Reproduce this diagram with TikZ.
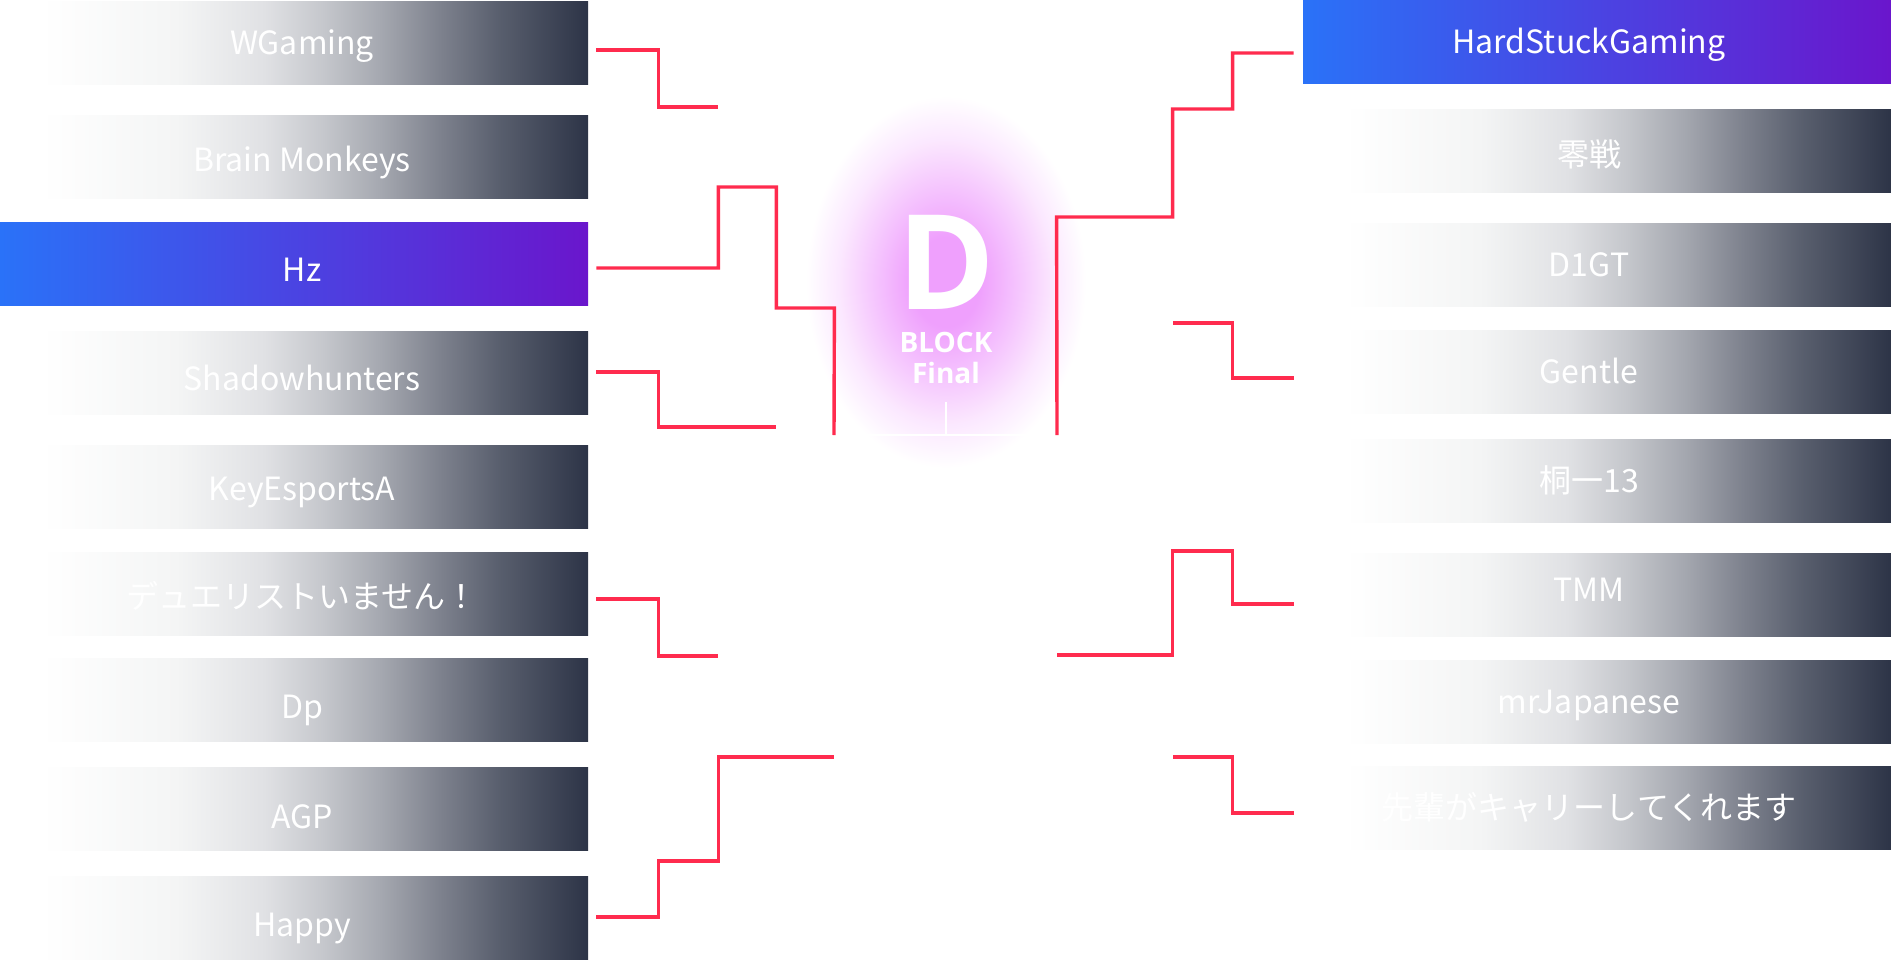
\documentclass[tikz,border=0pt]{standalone}
\usepackage{fontspec}
\setmainfont{Open Sans}
\newfontfamily\jpfont{Noto Sans CJK JP}
\usepackage{tikz}
\usetikzlibrary{calc,positioning}
\definecolor{bkred}{HTML}{FF2B4E}
\definecolor{winA}{HTML}{2A72F8}
\definecolor{winB}{HTML}{6A16CC}
\definecolor{glowc}{HTML}{EFA0FD}
\definecolor{gA}{HTML}{F4F5F5}
\definecolor{gB}{HTML}{E0E1E4}
\definecolor{gC}{HTML}{C5C7CC}
\definecolor{gD}{HTML}{A4A7AF}
\definecolor{gE}{HTML}{7D818D}
\definecolor{gF}{HTML}{585E6D}
\definecolor{navy}{HTML}{2D3447}
\pgfdeclarehorizontalshading{fadebar}{100bp}{color(0bp)=(white); color(25bp)=(white);
  color(28.5bp)=(white); color(40bp)=(gA); color(47.5bp)=(gB); color(52.5bp)=(gC);
  color(57.5bp)=(gD); color(62.5bp)=(gE); color(67.5bp)=(gF); color(75bp)=(navy); color(100bp)=(navy)}
\pgfdeclareradialshading{glowsh}{\pgfpoint{0bp}{0bp}}{color(0bp)=(glowc); color(6bp)=(glowc);
  color(13bp)=(glowc!60!white); color(19bp)=(glowc!25!white); color(25bp)=(white); color(50bp)=(white)}
\tikzset{
  bar/.style={inner sep=0pt, minimum width=294pt, minimum height=41.5pt, text height=11.7pt,
    text depth=0pt, text=white, font=\jpfont\fontsize{16}{19}\selectfont},
  lbar/.style={bar, shade, shading=fadebar, execute at begin node=\hspace*{8pt}},
  rbar/.style={bar, shade, shading=fadebar, execute at end node=\hspace*{8pt}},
  lwin/.style={bar, left color=winA, right color=winB, execute at begin node=\hspace*{8pt}},
  rwin/.style={bar, left color=winA, right color=winB, execute at end node=\hspace*{8pt}},
  tdrop/.style={text height=#1},
  tlift/.style={text depth=#1},
  bk/.style={draw=bkred, line width=1.7pt},
  fin/.style={draw=white, line width=0.7pt},
  blk/.style={inner sep=0pt, text=white, font=\bfseries\fontsize{66}{68}\selectfont, text height=47pt, text depth=0pt},
  sub/.style={inner sep=0pt, text=white, font=\bfseries\fontsize{14}{16}\selectfont, text height=10pt, text depth=0pt}
}
\begin{document}
\begin{tikzpicture}[x=0.5pt, y=-0.5pt]
  \fill[white] (0,0) rectangle (1891,969);
  \useasboundingbox (0,0) rectangle (1891,969);
  \shade[shading=glowsh] (946,282) ellipse [x radius=140, y radius=186];

  \node[lbar] (wg) at (294,42.5) {WGaming};
  \node[lbar, tdrop=15.2pt] (bm) at (294,156.5) {Brain Monkeys};
  \node[lwin, tdrop=18.2pt] (hz) at (294,263.5) {Hz};
  \node[lbar, tdrop=18.2pt] (sh) at (294,372.5) {Shadowhunters};
  \node[lbar, tdrop=13.7pt] (ke) at (294,486.5) {KeyEsportsA};
  \node[lbar, tdrop=15.2pt] (du) at (294,593.5) {デュエリストいません！};
  \node[lbar, tdrop=19.2pt] (dp) at (294,699.5) {Dp};
  \node[lbar, tdrop=20.2pt] (agp) at (294,808.5) {AGP};
  \node[lbar, tdrop=19.2pt] (hp) at (294,917.5) {Happy};

  \node[rwin] (hsg) at (1597,41.5) {HardStuckGaming};
  \node[rbar, tdrop=15.7pt] (zs) at (1597,150.5) {零戦};
  \node[rbar] (dg) at (1597,264.5) {D1GT};
  \node[rbar] (ge) at (1597,371.5) {Gentle};
  \node[rbar] (kr) at (1597,480.5) {桐一13};
  \node[rbar, tlift=4.5pt] (tmm) at (1597,594.5) {TMM};
  \node[rbar] (mrj) at (1597,701.5) {mrJapanese};
  \node[rbar] (sk) at (1597,807.5) {先輩がキャリーしてくれます};

  \coordinate (s1) at (718,107);
  \coordinate (s2) at (776,427);
  \coordinate (s3) at (718,656);
  \coordinate (s4) at (834,757);
  \coordinate (f1) at (834,435);
  \coordinate (t1) at (1173,323);
  \coordinate (t2) at (1057,655);
  \coordinate (t3) at (1173,757);
  \coordinate (f2) at (1057,435);
  \coordinate (fc) at (946,402);

  \draw[fin] (f1) -- (f2);
  \draw[fin] (fc) -- (fc |- f1);

  \draw[bk] ($(wg.east)+(8,7.5)$) -- ++(62,0) -- ++(0,57) -- (s1);
  \draw[bk] ($(hz.east)+(8,4.5)$) -- ++(122,0) -- ++(0,-81) -- ++(58,0) -- ++(0,121) -- ++(58,0) -- (f1);
  \draw[bk] ($(sh.east)+(8,-0.5)$) -- ++(62,0) -- ++(0,55) -- (s2);
  \draw[bk] ($(du.east)+(8,5.5)$) -- ++(62,0) -- ++(0,57) -- (s3);
  \draw[bk] ($(hp.east)+(8,-0.5)$) -- ++(62,0) -- ++(0,-56) -- ++(60,0) -- ++(0,-104) -- (s4);

  \draw[bk] ($(hsg.west)+(-9,11.5)$) -- ++(-61,0) -- ++(0,56) -- ++(-60,0) -- ++(0,108) -- ++(-116,0) -- (f2);
  \draw[bk] ($(ge.west)+(-9,6.5)$) -- ++(-61,0) -- ++(0,-55) -- (t1);
  \draw[bk] ($(tmm.west)+(-9,9.5)$) -- ++(-61,0) -- ++(0,-53) -- ++(-60,0) -- ++(0,104) -- (t2);
  \draw[bk] ($(sk.west)+(-9,5.5)$) -- ++(-61,0) -- ++(0,-56) -- (t3);

  \node[blk] (dl) at (946,262) {D};
  \node[sub] (bl) at (946,342) {BLOCK};
  \node[sub] (fn) at (946,373) {Final};
\end{tikzpicture}
\end{document}
